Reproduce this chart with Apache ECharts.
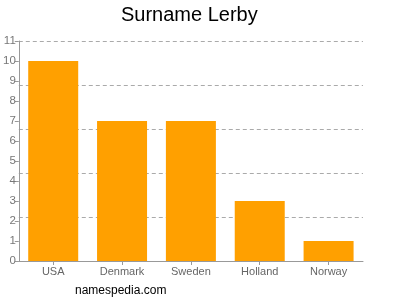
<!DOCTYPE html>
<html><head><meta charset="utf-8">
<script src="https://cdn.jsdelivr.net/npm/echarts@6/dist/echarts.min.js"></script>
<style>html,body{margin:0;padding:0;background:#fff}#c{width:400px;height:300px}</style>
</head><body><div id="c"></div>
<script>
const categories = ["USA", "Denmark", "Sweden", "Holland", "Norway"];
const values = [10, 7, 7, 3, 1];
const yTicks = [0,1,2,3,4,5,6,7,8,9,10,11];
const chart = echarts.init(document.getElementById('c'), null, {renderer:'canvas'});
chart.setOption({
  animation:false,
  title:{text:"Surname Lerby", left:121, top:5, padding:0,
    textStyle:{fontFamily:'Liberation Sans, Arial, sans-serif', fontSize:20, fontWeight:'normal', color:'#000'}},
  graphic:[{type:'text', left:75, top:285, style:{text:'namespedia.com', fontFamily:'Liberation Sans, Arial, sans-serif', fontSize:12, fill:'#000'}}],
  grid:{left:18, right:37, top:41, bottom:39, containLabel:false},
  xAxis:{type:'category', data:categories,
    axisLine:{lineStyle:{color:'#999'}},
    axisTick:{show:true, alignWithLabel:true, length:4, lineStyle:{color:'#999'}},
    axisLabel:{color:'#666', fontSize:11, fontFamily:'Liberation Sans, Arial, sans-serif', margin:5}},
  yAxis:[{type:'value', min:0, max:11, interval:1,
    axisLine:{show:true, lineStyle:{color:'#999'}},
    axisTick:{show:true, length:4, lineStyle:{color:'#999'}},
    splitLine:{show:false},
    axisLabel:{color:'#777', fontSize:11.5, fontFamily:'Liberation Sans, Arial, sans-serif', margin:3,
      formatter:function(v){return yTicks.indexOf(v)>=0?String(v):'';}}},
    {type:'value', min:0, max:11, interval:2.2, position:'left',
    axisLine:{show:false}, axisTick:{show:false}, axisLabel:{show:false},
    splitLine:{show:true, lineStyle:{color:'#aaa', type:[4,3], width:1}}}],
  series:[{type:'bar', data:values, barWidth:50, itemStyle:{color:'#ffa000'}}]
});
</script></body></html>
